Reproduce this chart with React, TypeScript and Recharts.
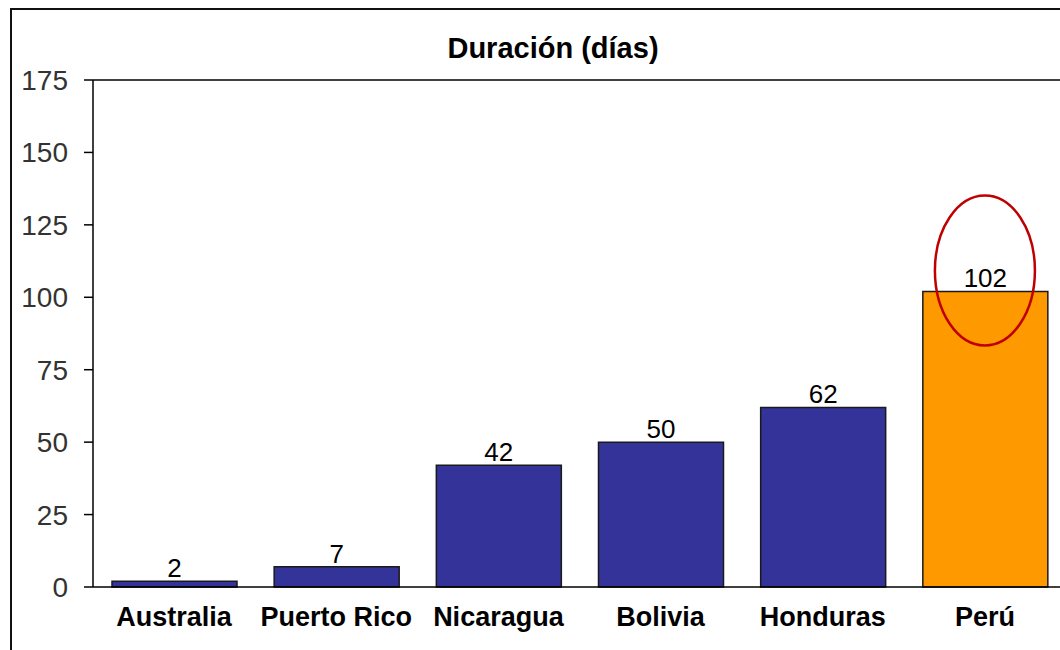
import { BarChart, Bar, XAxis, YAxis, Cell, LabelList, ReferenceLine, ReferenceDot } from "recharts";

const paises = ["Australia", "Puerto Rico", "Nicaragua", "Bolivia", "Honduras", "Perú"];
const duracion = [2, 7, 42, 50, 62, 102];
const colores = ["#333399", "#333399", "#333399", "#333399", "#333399", "#FF9900"];
const yTicks = [0, 25, 50, 75, 100, 125, 150, 175];
const destacado = "Perú";

const data = paises.map((pais, i) => ({ pais, dias: duracion[i] }));

const font = "'Liberation Sans', Arial, sans-serif";

function Ellipse(props: any) {
  const { cx, cy } = props;
  return <ellipse cx={cx} cy={cy - 21} rx={50} ry={75} fill="none" stroke="#C00000" strokeWidth={2.5} />;
}

export default function App() {
  return (
    <div style={{ position: "absolute", top: 0, left: 0, width: 1060, height: 650, overflow: "hidden", background: "#fff" }}>
      <div
        style={{
          position: "absolute",
          left: 10,
          top: 8,
          width: 1060,
          height: 650,
          borderTop: "2px solid #111",
          borderLeft: "2px solid #111",
        }}
      />
      <div
        style={{
          position: "absolute",
          left: 403,
          width: 300,
          top: 32,
          textAlign: "center",
          whiteSpace: "nowrap",
          fontFamily: font,
          fontWeight: "bold",
          fontSize: 29,
          lineHeight: "32px",
          color: "#000",
        }}
      >
        Duración (días)
      </div>
      <div style={{ position: "absolute", top: 0, left: 0 }}>
        <BarChart width={1066} height={650} data={data} margin={{ top: 80, right: 0, bottom: 0, left: 0 }}>
          <YAxis
            width={93}
            domain={[0, 175]}
            ticks={yTicks}
            interval={0}
            tickSize={9}
            tickMargin={16}
            axisLine={{ stroke: "#000", strokeWidth: 1.5 }}
            tickLine={{ stroke: "#000", strokeWidth: 1.5 }}
            tick={{ fill: "#333", fontSize: 28, fontFamily: font }}
          />
          <XAxis
            dataKey="pais"
            height={63}
            tickSize={0}
            tickMargin={20}
            axisLine={{ stroke: "#000", strokeWidth: 1.5 }}
            tickLine={false}
            tick={{ fill: "#000", fontSize: 27, fontWeight: "bold", fontFamily: font }}
          />
          <ReferenceLine y={175} stroke="#000" strokeWidth={1.5} />
          <Bar dataKey="dias" barSize={125} stroke="#1a1a1a" strokeWidth={1.5} isAnimationActive={false}>
            {data.map((d, i) => (
              <Cell key={d.pais} fill={colores[i]} />
            ))}
            <LabelList dataKey="dias" position="top" offset={4} fill="#000" fontSize={26} fontFamily={font} />
          </Bar>
          <ReferenceDot x={destacado} y={102} ifOverflow="visible" shape={Ellipse} />
        </BarChart>
      </div>
    </div>
  );
}
